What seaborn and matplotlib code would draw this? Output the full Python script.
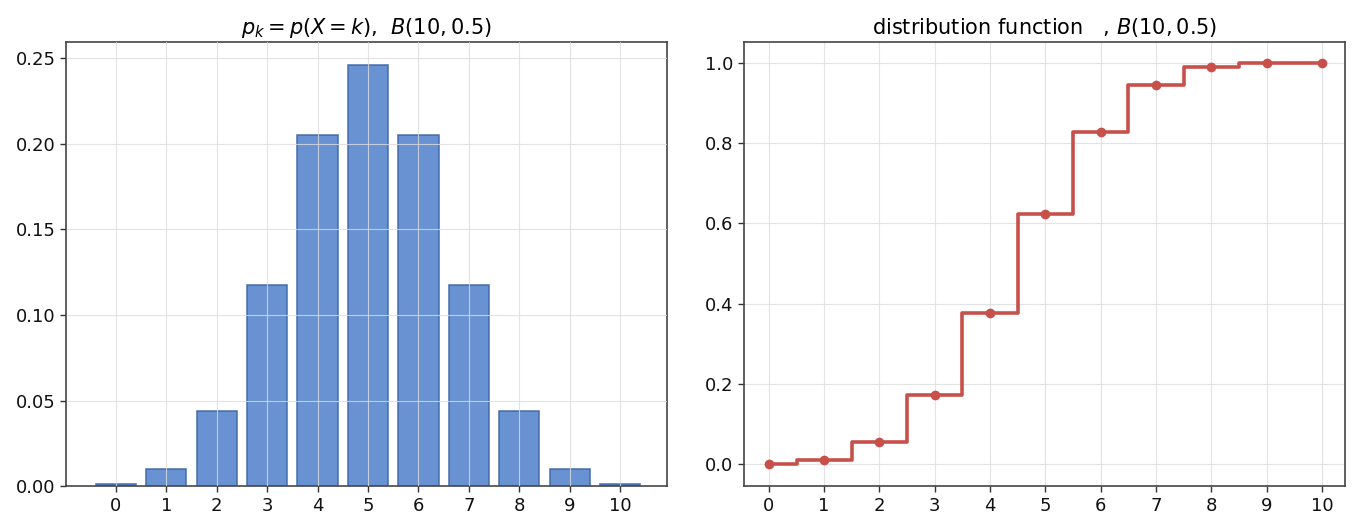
import numpy as np
import pandas as pd
import seaborn as sns
import matplotlib.pyplot as plt

k = list(range(11))
pk = [0.001, 0.0098, 0.0439, 0.1172, 0.2051, 0.2461, 0.2051, 0.1172, 0.0439, 0.0098, 0.001]
Fk = [0.001, 0.0107, 0.0547, 0.1719, 0.377, 0.623, 0.8281, 0.9453, 0.9893, 0.999, 1.0]

sns.set_style("white")
plt.rcParams['font.family'] = ['DejaVu Sans']

fig, (ax1, ax2) = plt.subplots(1, 2, figsize=(13.57, 5.2), dpi=100)
fig.subplots_adjust(left=0.0486, right=0.9912, top=0.919, bottom=0.065, wspace=0.128)

df = pd.DataFrame({'k': k, 'pk': pk, 'Fk': Fk})

sns.barplot(data=df, x='k', y='pk', ax=ax1, color='#4f7fcc', alpha=0.85,
            edgecolor='#3d64a8', linewidth=1.2, width=0.8, saturation=1)
ax1.set_axisbelow(False)
ax1.set_xlim(-0.99, 10.93)
ax1.set_ylim(0, 0.2593)
ax1.set_yticks([0, 0.05, 0.10, 0.15, 0.20, 0.25])
ax1.set_yticklabels(['0.00', '0.05', '0.10', '0.15', '0.20', '0.25'])
ax1.set_title(r'$p_k = p(X = k)$,  $B(10, 0.5)$', fontsize=15, color='black')

sns.lineplot(data=df, x='k', y='Fk', ax=ax2, color='#c8504b', linewidth=2.6,
             drawstyle='steps-mid', marker='o', markersize=7, markeredgewidth=0)
ax2.set_xlim(-0.45, 10.42)
ax2.set_ylim(-0.055, 1.052)
ax2.set_xticks(k)
ax2.set_yticks([0.0, 0.2, 0.4, 0.6, 0.8, 1.0])
ax2.set_title(r'distribution function   , $B(10, 0.5)$', fontsize=15, color='black')

for ax in (ax1, ax2):
    ax.grid(True, color='#dddddd', linewidth=0.8, alpha=0.8)
    ax.set_xlabel('')
    ax.set_ylabel('')
    ax.tick_params(axis='both', labelsize=13, length=4, width=1, colors='#333333',
                   left=True, bottom=True)
    ax.tick_params(labelcolor='#111111')
    for s in ax.spines.values():
        s.set_color('#444444')
        s.set_linewidth(1.2)

fig.savefig('out.png', dpi=100)
